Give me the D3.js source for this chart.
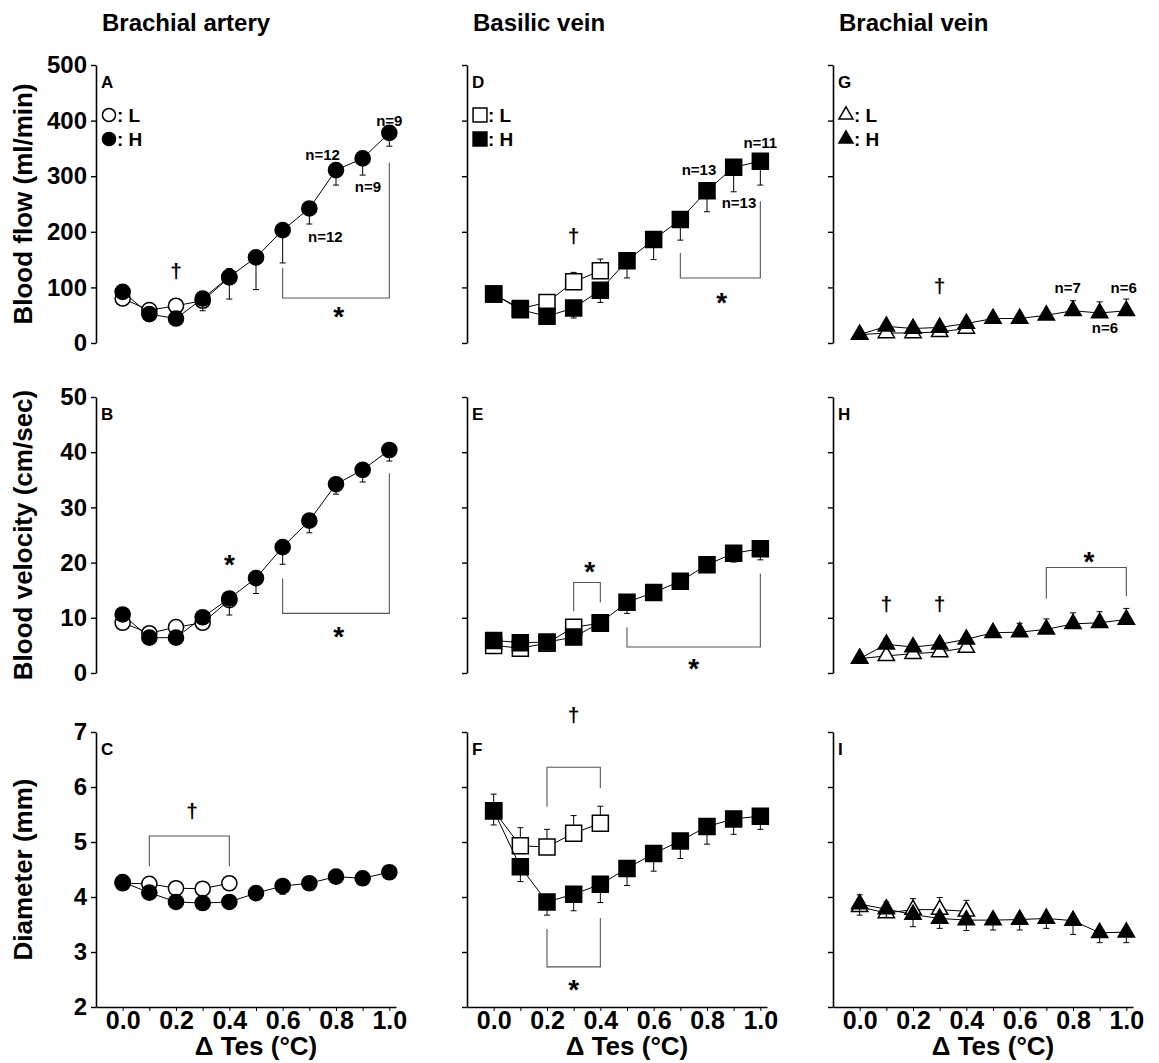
<!DOCTYPE html>
<html>
<head>
<style>
  body { margin: 0; background: #fff; }
  text { font-family: "Liberation Sans", Arial, sans-serif; font-weight: bold; fill: #000; }
</style>
</head>
<body>
<svg class="surface" width="1159" height="1063"></svg>
<script src="https://cdn.jsdelivr.net/npm/d3@7/dist/d3.min.js"></script>
<script>

// delta Tes steps (H runs the full range, L stops at 0.4)
const dTes = [0, 0.1, 0.2, 0.3, 0.4, 0.5, 0.6, 0.7, 0.8, 0.9, 1.0]
const dTesL = [0, 0.1, 0.2, 0.3, 0.4]

const vessels = ['Brachial artery', 'Basilic vein', 'Brachial vein']
const rowTitles = ['Blood flow (ml/min)', 'Blood velocity (cm/sec)', 'Diameter (mm)']
const rowTicks = [[0, 100, 200, 300, 400, 500], [0, 10, 20, 30, 40, 50], [2, 3, 4, 5, 6, 7]]
const xTickLabels = ['0.0', '', '0.2', '', '0.4', '', '0.6', '', '0.8', '', '1.0']

// blood flow
const flowArtH = [92, 52, 44, 80, 119, 154, 203, 242, 311, 332, 378]
const flowArtHErr = [6, 5, 5, 22, 40, 58, 59, 28, 27, 30, 24]
const flowArtL = [80, 59, 67, 76, 118]
const flowArtLErr = [5, 5, 6, 8, 16]
const flowBasH = [88, 60, 48, 63, 95, 148, 186, 222, 274, 316, 327]
const flowBasHErr = [5, 6, 13, 18, 22, 31, 36, 37, 38, 44, 43]
const flowBasL = [88, 62, 73, 110, 130]
const flowBasLErr = [5, 5, 6, 17, 21]
const flowBrvH = [15, 30, 26, 28, 35, 44, 44, 50, 58, 54, 58]
const flowBrvHErr = [3, 8, 5, 5, 5, 6, 6, 8, 18, 20, 21]
const flowBrvL = [15, 18, 18, 20, 26]
const flowBrvLErr = [2, 3, 3, 3, 3]

// blood velocity
const velArtH = [10.6, 6.4, 6.4, 10.1, 13.5, 17.2, 22.8, 27.6, 34.2, 36.8, 40.4]
const velArtHErr = [0.5, 0.5, 0.5, 1, 3.0, 2.8, 3.1, 2.2, 1.8, 2.2, 2.0]
const velArtL = [9.1, 7.2, 8.3, 9.1, 13.2]
const velArtLErr = [0.5, 0.5, 0.6, 0.6, 0.8]
const velBasH = [5.9, 5.5, 5.6, 6.5, 9.1, 12.8, 14.6, 16.6, 19.6, 21.7, 22.5]
const velBasHErr = [1, 1, 1, 1, 1, 2.0, 1.2, 1, 1, 1.6, 2.0]
const velBasL = [5.0, 4.5, 5.4, 8.3, 9.0]
const velBasLErr = [0.8, 0.8, 0.8, 0.8, 0.8]
const velBrvH = [2.6, 5.2, 4.7, 5.2, 6.1, 7.3, 7.4, 7.9, 8.9, 9.1, 9.7]
const velBrvHErr = [0.3, 1.0, 0.6, 0.8, 0.8, 0.6, 1.6, 1.9, 2.0, 2.0, 2.0]
const velBrvL = [2.6, 3.1, 3.5, 3.8, 4.6]
const velBrvLErr = [0.3, 0.4, 0.4, 0.4, 0.4]

// diameter
const diaArtH = [4.27, 4.08, 3.91, 3.89, 3.91, 4.07, 4.2, 4.25, 4.37, 4.34, 4.45]
const diaArtHErr = [0.05, 0.05, 0.05, 0.06, 0.12, 0.1, 0.15, 0.12, 0.08, 0.05, 0.05]
const diaArtL = [4.25, 4.24, 4.16, 4.15, 4.25]
const diaArtLErr = [0.05, 0.05, 0.05, 0.05, 0.05]
const diaBasH = [5.57, 4.55, 3.91, 4.05, 4.23, 4.52, 4.79, 5.02, 5.28, 5.42, 5.47]
const diaBasHErr = [0.26, 0.27, 0.24, 0.3, 0.33, 0.31, 0.32, 0.32, 0.32, 0.28, 0.24]
const diaBasL = [5.57, 4.93, 4.91, 5.16, 5.34]
const diaBasLErr = [0.3, 0.33, 0.32, 0.32, 0.31]
const diaBrvH = [3.87, 3.78, 3.68, 3.61, 3.58, 3.58, 3.59, 3.61, 3.57, 3.35, 3.36]
const diaBrvHErr = [0.2, 0.15, 0.22, 0.18, 0.19, 0.18, 0.19, 0.18, 0.25, 0.18, 0.19]
const diaBrvL = [3.82, 3.71, 3.77, 3.77, 3.74]
const diaBrvLErr = [0.22, 0.2, 0.2, 0.22, 0.2]

// layout
const colX = [96, 467, 833]
const rowY = [[343, 65], [673, 397], [1007, 732]]
const shapes = [d3.symbolCircle, d3.symbolSquare, d3.symbolTriangle]
const shapeSize = [180, 256, 115]

// panels, annotations in data units
const panels = [
  { row: 0, col: 0, letter: 'A', h: flowArtH, hErr: flowArtHErr, l: flowArtL, lErr: flowArtLErr, hDir: -1, lDir: 1,
    notes: [['†', 0.2, 129], ['n=12', 0.75, 338], ['n=9', 0.92, 281], ['n=12', 0.76, 191], ['n=9', 1.0, 400], ['*', 0.81, 59]],
    brackets: [[0.6, 1.0, 81, 135, 324]] },
  { row: 0, col: 1, letter: 'D', h: flowBasH, hErr: flowBasHErr, l: flowBasL, lErr: flowBasLErr, hDir: -1, lDir: 1,
    notes: [['†', 0.3, 191], ['n=13', 0.77, 311], ['n=13', 0.92, 252], ['n=11', 1.0, 361], ['*', 0.855, 85]],
    brackets: [[0.7, 1.0, 117, 162, 255]] },
  { row: 0, col: 2, letter: 'G', h: flowBrvH, hErr: flowBrvHErr, l: flowBrvL, lErr: flowBrvLErr, hDir: 1, lDir: -1,
    notes: [['†', 0.3, 101], ['n=7', 0.78, 99], ['n=6', 0.99, 99], ['n=6', 0.92, 27]],
    brackets: [] },
  { row: 1, col: 0, letter: 'B', h: velArtH, hErr: velArtHErr, l: velArtL, lErr: velArtLErr, hDir: -1, lDir: 1,
    notes: [['*', 0.4, 20.9], ['*', 0.81, 7.7]],
    brackets: [[0.6, 1.0, 10.8, 17.1, 36.2]] },
  { row: 1, col: 1, letter: 'E', h: velBasH, hErr: velBasHErr, l: velBasL, lErr: velBasLErr, hDir: -1, lDir: 1,
    notes: [['*', 0.36, 19.5], ['*', 0.75, 2.0]],
    brackets: [[0.3, 0.4, 16.4, 11.2, 12.8], [0.5, 1.0, 4.7, 8.3, 18.0]] },
  { row: 1, col: 2, letter: 'H', h: velBrvH, hErr: velBrvHErr, l: velBrvL, lErr: velBrvLErr, hDir: 1, lDir: -1,
    notes: [['†', 0.1, 12.3], ['†', 0.3, 12.3], ['*', 0.86, 21.3]],
    brackets: [[0.7, 1.0, 19.1, 13.5, 13.9]] },
  { row: 2, col: 0, letter: 'C', h: diaArtH, hErr: diaArtHErr, l: diaArtL, lErr: diaArtLErr, hDir: -1, lDir: 1,
    notes: [['†', 0.26, 5.55]],
    brackets: [[0.1, 0.4, 5.11, 4.56, 4.56]] },
  { row: 2, col: 1, letter: 'F', h: diaBasH, hErr: diaBasHErr, l: diaBasL, lErr: diaBasLErr, hDir: -1, lDir: 1,
    notes: [['†', 0.3, 7.3], ['*', 0.3, 2.44]],
    brackets: [[0.2, 0.4, 6.36, 5.64, 5.98], [0.2, 0.4, 2.73, 3.42, 3.62]] },
  { row: 2, col: 2, letter: 'I', h: diaBrvH, hErr: diaBrvHErr, l: diaBrvL, lErr: diaBrvLErr, hDir: -1, lDir: 1,
    notes: [], brackets: [] }
]

const surface = d3.select('.surface')

// column titles and row titles
vessels.forEach((v, c) => {
  surface.append('text').attr('x', colX[c] + 6).attr('y', 31)
    .style('font-size', '24px').text(v)
})
rowTitles.forEach((t, r) => {
  const cy = (rowY[r][0] + rowY[r][1]) / 2
  surface.append('text')
    .attr('transform', `translate(32,${cy}) rotate(-90)`)
    .attr('text-anchor', 'middle')
    .style('font-size', '26px').text(t)
})

panels.forEach(p => {
  const x = d3.scaleLinear().domain([-0.1, 1.025]).range([colX[p.col], colX[p.col] + 300])
  const ticks = rowTicks[p.row]
  const y = d3.scaleLinear().domain([ticks[0], ticks[ticks.length - 1]]).range(rowY[p.row])
  const g = surface.append('g')
  const shape = shapes[p.col]

  // y axis
  const yAxis = d3.axisLeft(y).tickValues(ticks).tickSize(5).tickSizeOuter(0).tickPadding(4)
    .tickFormat(d => p.col === 0 ? d : '')
  const ya = g.append('g').attr('transform', `translate(${colX[p.col]},0)`).call(yAxis)
  ya.select('.domain').attr('stroke-width', 1.6)
  ya.selectAll('.tick line').attr('stroke-width', 1.4)
  ya.selectAll('text').style('font-size', '24px').attr('font-family', null)

  // x axis on the bottom row only
  if (p.row === 2) {
    const xAxis = d3.axisBottom(x).tickValues(dTes).tickSize(4).tickSizeOuter(0).tickPadding(0)
      .tickFormat((d, i) => xTickLabels[i])
    const xa = g.append('g').attr('transform', `translate(0,${rowY[2][0]})`).call(xAxis)
    xa.select('.domain').attr('stroke-width', 1.6)
    xa.selectAll('text').style('font-size', '25px').attr('font-family', null)
    g.append('text').attr('x', x(0.5)).attr('y', 1055).attr('text-anchor', 'middle')
      .style('font-size', '26px').text('Δ Tes (°C)')
  }

  // panel letter and legend
  const top = rowY[p.row][1]
  g.append('text').attr('x', colX[p.col] + 5).attr('y', top + 23).style('font-size', '17px').text(p.letter)
  if (p.row === 0) {
    [['L', 'white', 50], ['H', 'black', 74]].forEach(([k, fill, dy]) => {
      g.append('path').attr('d', d3.symbol(shape, shapeSize[p.col] * 0.75)())
        .attr('transform', `translate(${colX[p.col] + 13},${top + dy})`)
        .attr('fill', fill).attr('stroke', 'black').attr('stroke-width', 1.5)
      g.append('text').attr('x', colX[p.col] + 21).attr('y', top + dy + 7)
        .style('font-size', '19px').text(': ' + k)
    })
  }

  // brackets
  p.brackets.forEach(([x1, x2, yb, y1, y2]) => {
    g.append('path')
      .attr('d', `M${x(x1)},${y(y1)}V${y(yb)}H${x(x2)}V${y(y2)}`)
      .attr('fill', 'none').attr('stroke', '#555').attr('stroke-width', 1.1)
  })

  // series: L first, H on top
  const series = [
    { xs: dTesL, v: p.l, e: p.lErr, dir: p.lDir, fill: 'white' },
    { xs: dTes, v: p.h, e: p.hErr, dir: p.hDir, fill: 'black' }
  ]
  series.forEach(s => {
    const pts = s.v.map((v, i) => ({ x: s.xs[i], v: v, e: s.e[i] }))
    g.selectAll(null).data(pts).enter().append('path')
      .attr('d', d => {
        const xe = x(d.x), ye = y(d.v + s.dir * d.e)
        return `M${xe},${y(d.v)}V${ye}M${xe - 3},${ye}H${xe + 3}`
      })
      .attr('stroke', 'black').attr('stroke-width', 1).attr('fill', 'none')
    g.append('path').datum(pts)
      .attr('d', d3.line().x(d => x(d.x)).y(d => y(d.v)))
      .attr('fill', 'none').attr('stroke', 'black').attr('stroke-width', 1)
    g.selectAll(null).data(pts).enter().append('path')
      .attr('d', d3.symbol(shape, shapeSize[p.col]))
      .attr('transform', d => `translate(${x(d.x)},${y(d.v)})`)
      .attr('fill', s.fill).attr('stroke', 'black').attr('stroke-width', 1.5)
  })

  // text notes
  p.notes.forEach(([t, nx, ny]) => {
    const size = t === '*' ? 28 : t === '†' ? 21 : 15
    const dy = t === '*' ? '0.57em' : t === '†' ? '0.3em' : '0.35em'
    g.append('text').attr('x', x(nx)).attr('y', y(ny)).attr('dy', dy)
      .attr('text-anchor', 'middle').style('font-size', size + 'px').text(t)
  })
})

</script>
</body>
</html>
